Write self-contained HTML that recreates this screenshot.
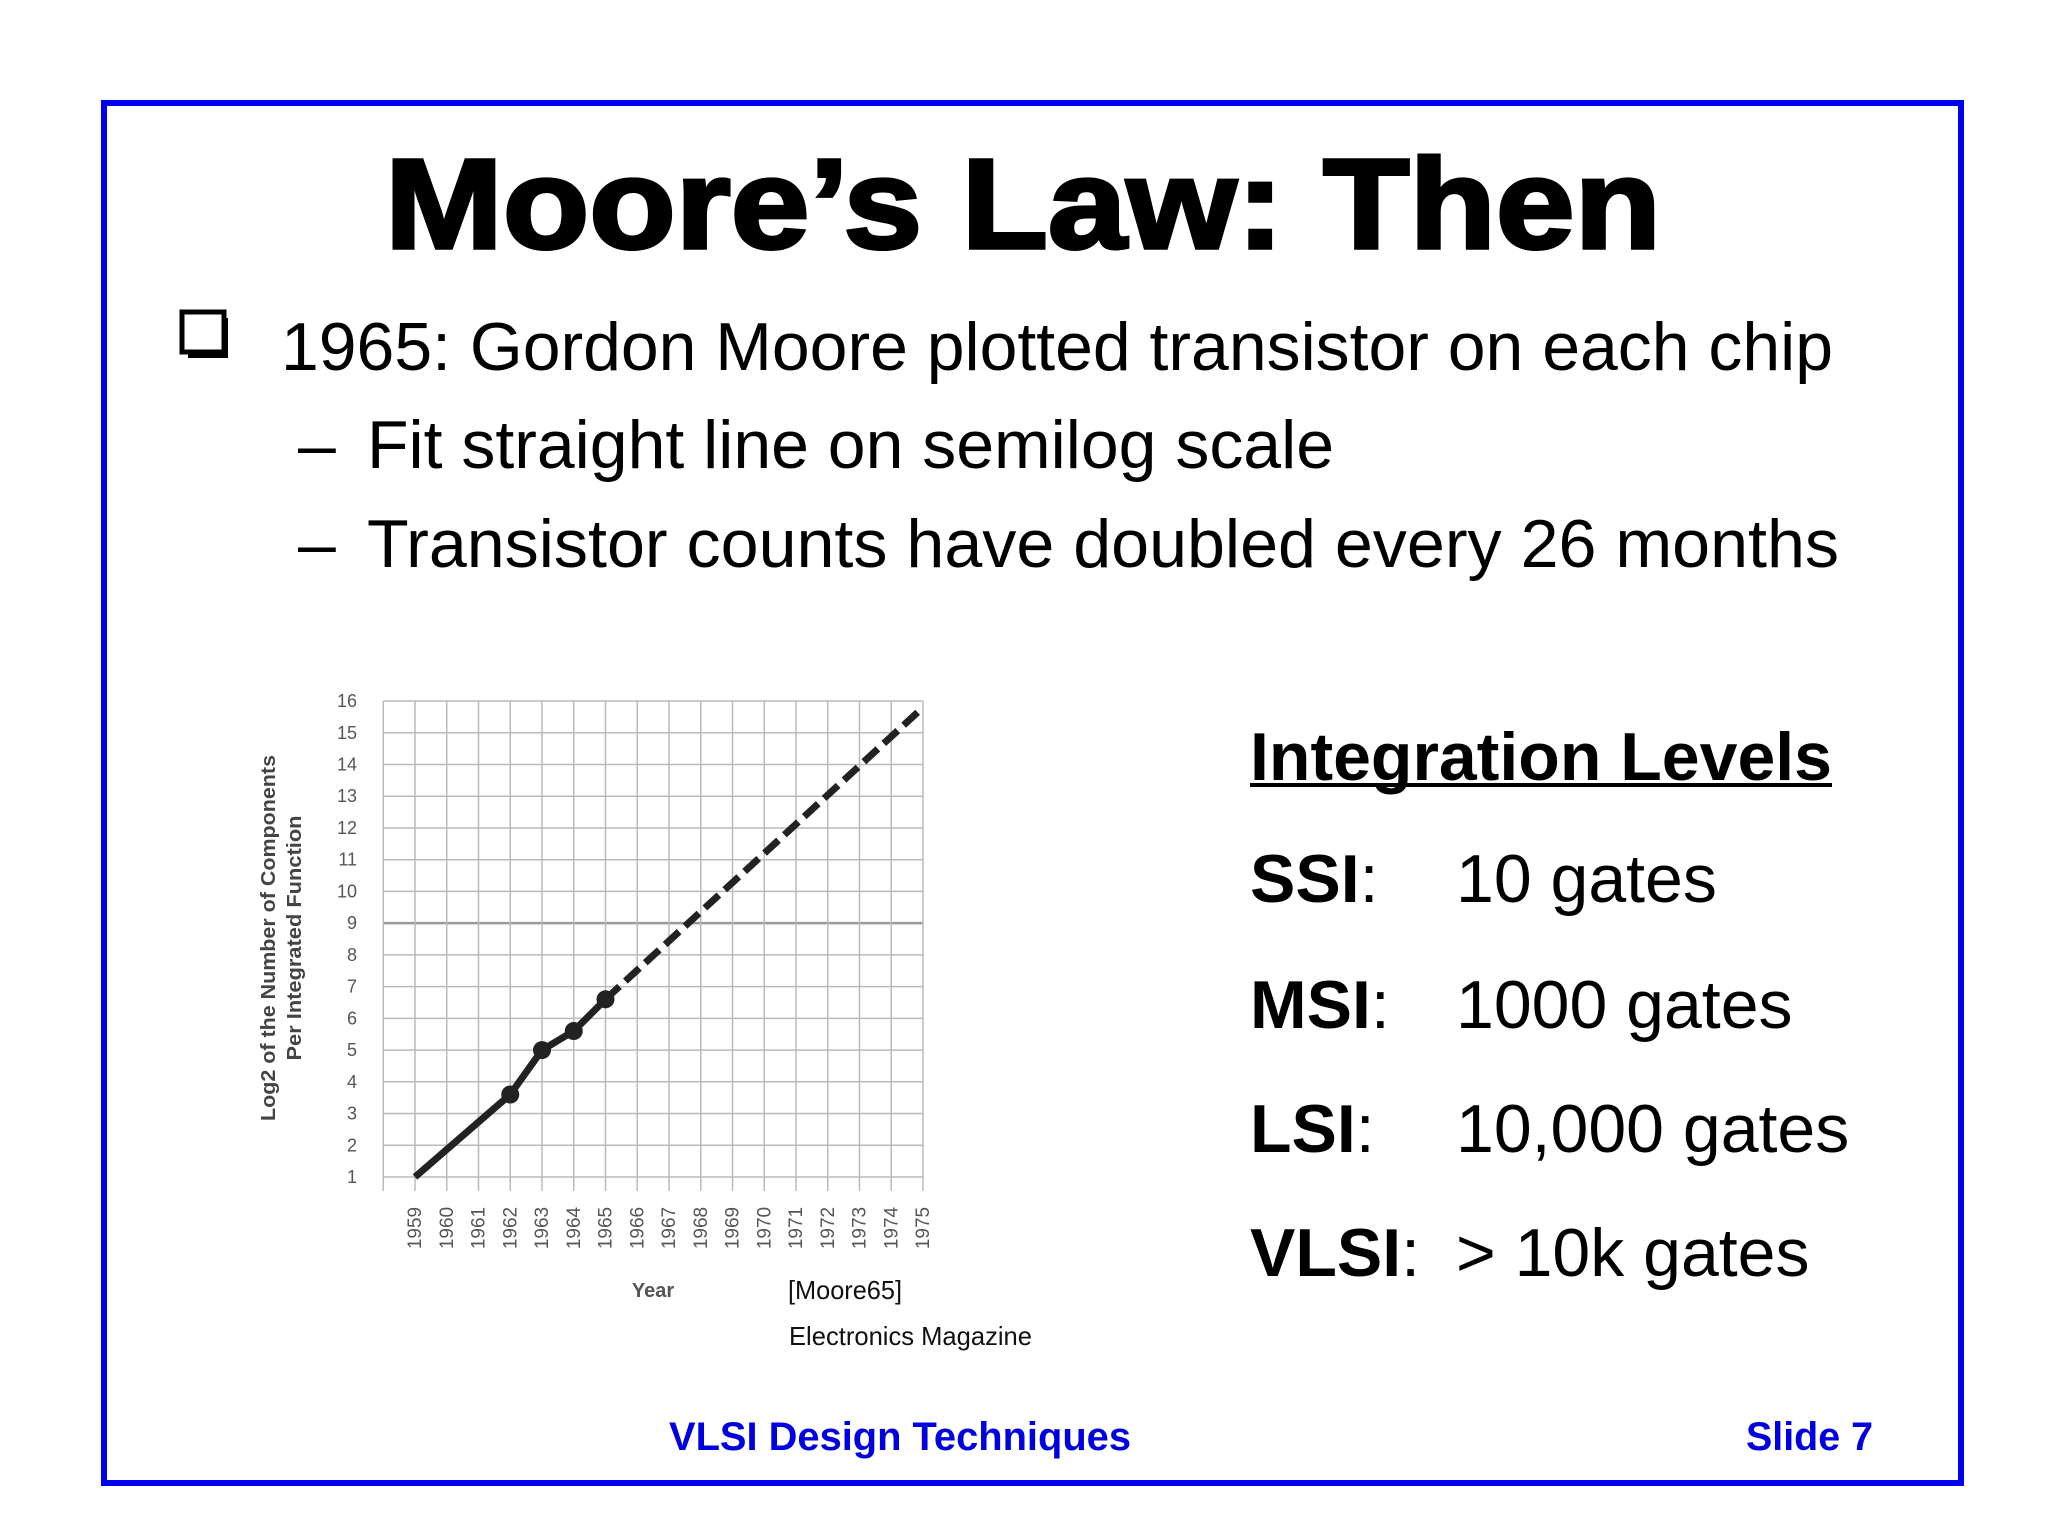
<!DOCTYPE html>
<html><head><meta charset="utf-8"><style>
html,body{margin:0;padding:0;background:#fff;width:2048px;height:1536px;overflow:hidden}
svg{display:block}
text{font-family:"Liberation Sans",Arial,sans-serif}
</style></head><body>
<svg id="slide" width="2048" height="1536" viewBox="0 0 2048 1536" xmlns="http://www.w3.org/2000/svg">
<rect x="104" y="103" width="1857" height="1380" fill="none" stroke="#0000f0" stroke-width="6"/>
<text x="1023" y="248" text-anchor="middle" font-size="128" font-weight="bold" stroke="#000" stroke-width="3.5" textLength="1276" lengthAdjust="spacingAndGlyphs">Moore’s Law: Then</text>
<rect x="182" y="312" width="42" height="40" fill="none" stroke="#000" stroke-width="5"/>
<path d="M226 318 V356 H188" fill="none" stroke="#000" stroke-width="4"/>
<text x="281" y="370" font-size="68" textLength="1552" lengthAdjust="spacingAndGlyphs">1965: Gordon Moore plotted transistor on each chip</text>
<text x="298" y="468" font-size="68">–</text>
<text x="367" y="468" font-size="68" textLength="967" lengthAdjust="spacingAndGlyphs">Fit straight line on semilog scale</text>
<text x="298" y="567" font-size="68">–</text>
<text x="367" y="567" font-size="68" textLength="1472" lengthAdjust="spacingAndGlyphs">Transistor counts have doubled every 26 months</text>

<text x="1250" y="780" font-size="68" font-weight="bold" textLength="582" lengthAdjust="spacingAndGlyphs">Integration Levels</text>
<rect x="1250" y="783" width="582" height="4" fill="#000"/>
<g font-size="68">
<text x="1250" y="902"><tspan font-weight="bold">SSI</tspan>:</text><text x="1456" y="902">10 gates</text>
<text x="1250" y="1028"><tspan font-weight="bold">MSI</tspan>:</text><text x="1456" y="1028">1000 gates</text>
<text x="1250" y="1152"><tspan font-weight="bold">LSI</tspan>:</text><text x="1456" y="1152">10,000 gates</text>
<text x="1250" y="1276"><tspan font-weight="bold">VLSI</tspan>:</text><text x="1456" y="1276">&gt; 10k gates</text>
</g>

<g id="chart"></g>

<text x="669" y="1450" font-size="40" font-weight="bold" fill="#0000e0" textLength="462" lengthAdjust="spacingAndGlyphs">VLSI Design Techniques</text>
<text x="1746" y="1450" font-size="40" font-weight="bold" fill="#0000e0" textLength="127" lengthAdjust="spacingAndGlyphs">Slide 7</text>
</svg>
<script>
const years = [1959,1960,1961,1962,1963,1964,1965,1966,1967,1968,1969,1970,1971,1972,1973,1974,1975];
const yTicks = [1,2,3,4,5,6,7,8,9,10,11,12,13,14,15,16];
const measuredYears = [1959,1962,1963,1964,1965];
const measuredValues = [1,3.6,5,5.6,6.6];
const dotYears = [1962,1963,1964,1965];
const dotValues = [3.6,5,5.6,6.6];
const projYears = [1965,1975];
const projValues = [6.6,15.8];

const NS='http://www.w3.org/2000/svg';
const g=document.getElementById('chart');
function X(yr){return 415+(yr-1959)*31.75;}
function Y(v){return 1177-(v-1)*31.73;}
function mk(t,a,p){const e=document.createElementNS(NS,t);for(const k in a)e.setAttribute(k,a[k]);(p||g).appendChild(e);return e;}
const x0=X(1958), x1=X(1975);
yTicks.forEach(v=>{
  const l=mk('line',{x1:x0,x2:x1,y1:Y(v),y2:Y(v),stroke:v===9?'#999':'#bbb','stroke-width':v===9?2.5:1.5});
  
  
  const t=mk('text',{x:357,y:Y(v)+6,'text-anchor':'end','font-size':18,fill:'#555'});
  
  
  t.textContent=v;
});
[1958].concat(years).forEach(yr=>{
  const l=mk('line',{x1:X(yr),x2:X(yr),y1:Y(16),y2:Y(1)+14,stroke:'#bbb','stroke-width':1.5});
  
  
});
years.forEach(yr=>{
  const t=mk('text',{x:0,y:0,'text-anchor':'middle','font-size':19,fill:'#555',transform:`translate(${X(yr)+6},1228) rotate(-90)`});
  
  
  t.textContent=yr;
});
const ml=mk('polyline',{points:measuredYears.map((y,i)=>X(y)+','+Y(measuredValues[i])).join(' '),fill:'none',stroke:'#222','stroke-width':7,'stroke-linejoin':'round'});


const pl=mk('polyline',{points:projYears.map((y,i)=>X(y)+','+Y(projValues[i])).join(' '),fill:'none',stroke:'#222','stroke-width':7,'stroke-dasharray':'19 8'});


dotYears.forEach((y,i)=>{
  const c=mk('circle',{cx:X(y),cy:Y(dotValues[i]),r:9,fill:'#222'});
  
  
});
let t=mk('text',{x:0,y:0,'text-anchor':'middle','font-size':20,'font-weight':'bold',fill:'#444',transform:'translate(275,938) rotate(-90)',textLength:366,lengthAdjust:'spacingAndGlyphs'});


t.textContent='Log2 of the Number of Components';
t=mk('text',{x:0,y:0,'text-anchor':'middle','font-size':20,'font-weight':'bold',fill:'#444',transform:'translate(301,938) rotate(-90)',textLength:245,lengthAdjust:'spacingAndGlyphs'});


t.textContent='Per Integrated Function';
t=mk('text',{x:653,y:1297,'text-anchor':'middle','font-size':20,'font-weight':'bold',fill:'#555'});


t.textContent='Year';
t=mk('text',{x:788,y:1299,'font-size':26,fill:'#111',textLength:114,lengthAdjust:'spacingAndGlyphs'});


t.textContent='[Moore65]';
t=mk('text',{x:789,y:1345,'font-size':26,fill:'#111',textLength:243,lengthAdjust:'spacingAndGlyphs'});


t.textContent='Electronics Magazine';
</script>
</body></html>
